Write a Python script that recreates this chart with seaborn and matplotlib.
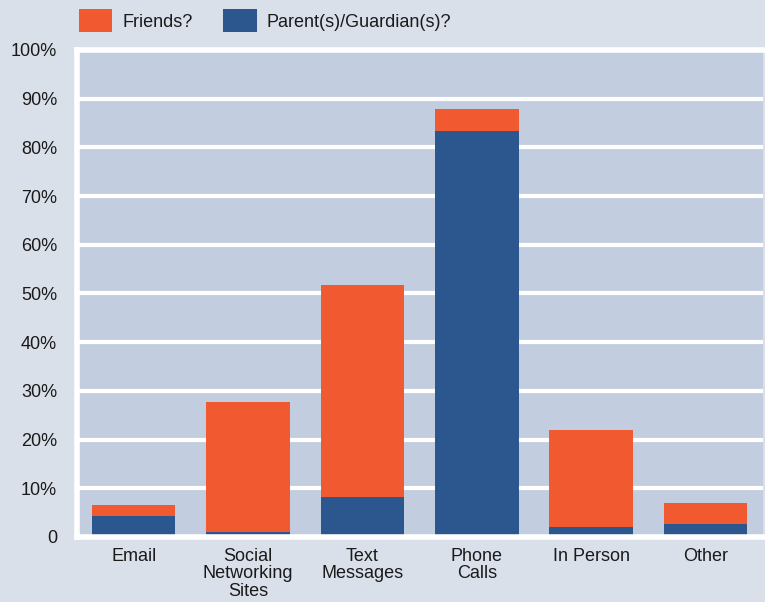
import pandas as pd
import seaborn as sns
import matplotlib.pyplot as plt

categories = ["Email", "Social\nNetworking\nSites", "Text\nMessages", "Phone\nCalls", "In Person", "Other"]
friends = [6.6, 27.8, 51.8, 87.8, 22.0, 7.0]
parents = [4.4, 1.1, 8.2, 83.3, 2.1, 2.6]
y_ticks = [0, 10, 20, 30, 40, 50, 60, 70, 80, 90, 100]
y_labels = ["0", "10%", "20%", "30%", "40%", "50%", "60%", "70%", "80%", "90%", "100%"]

df = pd.DataFrame({"channel": categories, "Friends?": friends, "Parent(s)/Guardian(s)?": parents})

sns.set_theme(style="white")
plt.rcParams["font.family"] = ["Liberation Sans Narrow", "Liberation Sans", "DejaVu Sans"]

fig = plt.figure(figsize=(7.65, 6.02), dpi=100, facecolor="#dae0ea")
ax = fig.add_axes([0.100, 0.108, 0.897, 0.809])
ax.set_facecolor("#c2cddf")

# friends bar sits behind, parents bar drawn on top of it
sns.barplot(data=df, x="channel", y="Friends?", color="#f15a31", saturation=1,
            width=0.73, label="Friends?", linewidth=0, ax=ax)
sns.barplot(data=df, x="channel", y="Parent(s)/Guardian(s)?", color="#2c568e", saturation=1,
            width=0.73, label="Parent(s)/Guardian(s)?", linewidth=0, ax=ax)

ax.set_ylim(0, 100)
ax.set_xlim(-0.5, 5.5)
ax.set_yticks(y_ticks)
ax.set_yticklabels(y_labels)
ax.set_xlabel("")
ax.set_ylabel("")
ax.yaxis.grid(True, color="white", lw=3)
ax.set_axisbelow(True)
ax.tick_params(axis="both", length=0, labelsize=13, colors="#1a1a1a")
ax.tick_params(axis="y", pad=14)
ax.tick_params(axis="x", pad=8)
for lab in ax.get_xticklabels():
    lab.set_linespacing(1.02)

for side in ["left", "bottom", "top"]:
    ax.spines[side].set_color("white")
    ax.spines[side].set_linewidth(4)
ax.spines["right"].set_visible(False)

if ax.get_legend():
    ax.get_legend().remove()
handles, labels = ax.get_legend_handles_labels()
leg = fig.legend(handles, labels, loc="upper left", bbox_to_anchor=(0.103, 0.985),
                 ncol=2, frameon=False, fontsize=13, handlelength=1.85, handleheight=1.6,
                 columnspacing=1.7, handletextpad=0.55, borderaxespad=0, borderpad=0)
for t in leg.get_texts():
    t.set_color("#1a1a1a")

plt.savefig("out.png", dpi=100, facecolor=fig.get_facecolor())
